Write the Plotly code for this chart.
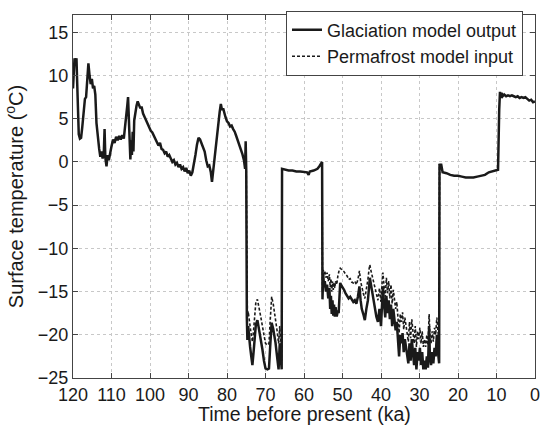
import plotly.graph_objects as go

# glaciation model output (solid), time before present in ka
glac_time = [
    120.0, 119.8, 119.6, 119.3, 119.1, 118.9, 118.7, 118.5, 118.2, 117.9,
    117.6, 117.2, 116.9, 116.6, 116.3, 116.0, 115.7, 115.4, 115.1, 114.8,
    114.5, 114.2, 113.9, 113.6, 113.2, 112.9, 112.6, 112.3, 112.0, 111.8,
    111.6, 111.3, 111.0, 110.7, 110.4, 110.0, 109.6, 109.2, 108.8, 108.4,
    108.0, 107.6, 107.2, 106.8, 106.5, 106.2, 105.9, 105.7, 105.5, 105.3,
    105.1, 104.9, 104.7, 104.5, 104.3, 104.1, 103.8, 103.5, 103.2, 102.9,
    102.5, 102.2, 101.8, 101.4, 101.0, 100.6, 100.2, 99.8, 99.4, 99.0,
    98.6, 98.2, 97.8, 97.4, 97.0, 96.6, 96.2, 95.8, 95.4, 95.0,
    94.6, 94.2, 93.8, 93.4, 93.0, 92.6, 92.2, 91.8, 91.4, 91.0,
    90.6, 90.2, 89.8, 89.4, 89.0, 88.6, 88.2, 87.8, 87.4, 87.0,
    86.6, 86.2, 85.8, 85.4, 85.0, 84.6, 84.2, 83.9, 83.6, 83.3,
    83.0, 82.6, 82.2, 81.9, 81.6, 81.3, 81.0, 80.7, 80.4, 80.0,
    79.6, 79.2, 78.8, 78.4, 78.0, 77.6, 77.2, 76.8, 76.4, 76.0,
    75.6, 75.3, 75.15, 75.0,
    74.85, 74.7, 74.5, 74.3, 74.0, 73.7, 73.4, 73.1, 72.8, 72.5,
    72.1, 71.8, 71.5, 71.2, 70.8, 70.4, 70.0, 69.5, 69.1, 68.8,
    68.4, 68.0, 67.7, 67.4, 67.0, 66.6, 66.3, 66.0, 65.8,
    65.7, 65.0, 64.0, 63.0, 62.0, 61.0, 60.0, 59.2, 58.8, 58.5,
    57.5, 56.5, 56.0, 55.5, 55.3,
    55.2, 55.0, 54.8, 54.6, 54.3, 54.0, 53.7, 53.4, 53.2, 53.0,
    52.8, 52.6, 52.4, 52.2, 52.0, 51.8, 51.5, 51.2, 51.0, 50.8,
    50.6, 50.3, 50.0, 49.6, 49.2, 48.8, 48.4, 48.0, 47.6, 47.2,
    46.8, 46.4, 46.0, 45.6, 45.3, 45.0, 44.6, 44.2, 43.8, 43.4,
    43.1, 42.9, 42.6, 42.3, 42.0, 41.6, 41.2, 40.8, 40.4, 40.0,
    39.7, 39.5, 39.2, 38.9, 38.6, 38.3, 38.0, 37.7, 37.4, 37.1,
    36.8, 36.5, 36.2, 35.9, 35.6, 35.3, 35.0, 34.7, 34.4, 34.1,
    33.8, 33.5, 33.2, 32.9, 32.6, 32.3, 32.0, 31.7, 31.4, 31.1,
    30.8, 30.5, 30.2, 29.9, 29.6, 29.3, 29.0, 28.7, 28.4, 28.1,
    27.8, 27.5, 27.3, 27.0, 26.7, 26.4, 26.1, 25.8, 25.5, 25.2,
    24.9,
    24.8, 24.6, 24.4, 24.2, 24.0, 23.0, 22.0, 21.0, 20.0, 19.0,
    18.0, 17.0, 16.0, 15.0, 14.0, 13.0, 12.0, 11.0, 10.3, 9.6,
    9.3, 9.1, 8.9, 8.7, 8.4, 8.0, 7.5, 7.0, 6.5, 6.0,
    5.5, 5.0, 4.5, 4.0, 3.5, 3.0, 2.5, 2.0, 1.5, 1.0,
    0.5, 0.0,
]
glac_temp = [
    8.5, 11.0, 12.0, 11.2, 12.0, 9.0, 5.5, 3.2, 2.7, 2.8,
    4.0, 6.5, 7.3, 7.5, 9.5, 11.4, 10.0, 9.0, 9.6, 8.5,
    8.8, 7.8, 4.5, 3.0, 1.5, 0.6, 1.2, 0.4, 1.0, 3.8,
    0.5, -0.5, 0.8, 0.2, 1.0, 1.8, 2.6, 2.2, 2.9, 2.5,
    3.0, 2.6, 3.1, 2.7, 4.0, 5.0, 6.5, 7.5, 4.0, 1.5,
    0.3, 2.5, 0.8, 3.5, 1.2, 4.8, 5.8, 6.5, 7.0, 6.7,
    6.2, 6.4, 5.6, 5.2, 4.8, 4.3, 4.0, 3.6, 3.4, 3.0,
    2.6, 2.3, 1.9, 2.2, 1.5, 1.4, 1.0, 1.2, 0.6, 0.8,
    0.3, 0.0, 0.2, -0.3, -0.1, -0.6, -0.3, -0.8, -0.6, -1.1,
    -0.7, -1.3, -1.0, -1.6, -1.2, -0.3, 0.8, 2.0, 2.8, 2.6,
    2.2, 1.8, 1.2, 0.2, -0.5, -0.4, -1.2, -2.3, -1.0, 0.3,
    1.5, 3.0, 4.5, 5.8, 6.7, 6.0, 6.2, 5.6, 5.2, 4.7,
    4.5, 4.1, 4.2, 3.8, 3.5, 3.0, 2.5, 2.0, 1.4, 0.9,
    0.2, -0.8, 2.4, -1.0,
    -18.0, -20.6, -19.0, -20.2, -21.4, -22.5, -23.5, -22.0, -19.8, -18.8,
    -18.3, -19.0, -19.8, -20.8, -21.7, -23.0, -23.9, -24.0, -23.9, -21.5,
    -18.6, -19.3, -20.0, -20.9, -22.5, -24.0, -21.0, -23.5, -24.0,
    -0.8, -0.9, -1.0, -1.0, -1.1, -1.1, -1.2, -1.2, -1.5, -1.1,
    -1.0, -0.8, -0.5, -0.2, 0.0,
    -15.9, -13.0, -14.5, -13.8, -15.0, -14.2, -15.8, -14.6, -17.0, -15.5,
    -17.6, -16.0, -17.8, -16.5, -17.9, -16.8, -17.9, -17.2, -17.5, -15.5,
    -14.0, -14.3, -14.5, -14.8, -15.2, -15.5, -15.8, -15.6, -16.0, -16.2,
    -16.0, -16.4, -15.6, -14.4, -16.0, -17.0, -17.6, -18.3, -17.0, -16.0,
    -14.5, -13.4, -14.2, -15.0, -16.0, -17.0, -17.9, -18.5, -17.0, -19.0,
    -16.0, -14.4, -16.5, -18.0, -15.5, -17.5, -16.0, -18.2, -16.5, -19.0,
    -17.0, -18.5, -19.5, -18.5, -20.5, -22.5, -20.0, -21.0, -19.8, -22.0,
    -20.5, -21.5, -22.8, -23.3, -21.0, -23.0, -20.5, -22.5, -23.5, -21.5,
    -24.0, -22.0, -23.0, -21.5, -23.5, -22.0, -24.0, -23.0, -24.0, -22.5,
    -23.8, -19.0, -22.5, -23.5, -22.0, -23.3, -21.5, -22.5, -20.0, -22.0,
    -23.3,
    -0.2, -0.6, -0.2, -1.0, -1.2, -1.3, -1.5, -1.6, -1.6, -1.7,
    -1.8, -1.8, -1.8, -1.7, -1.6, -1.5, -1.2, -1.1, -1.0, -0.9,
    6.0, 8.1, 7.4, 8.0, 7.6, 7.8, 7.6, 7.7, 7.6, 7.7,
    7.6, 7.5, 7.6, 7.4, 7.5, 7.4, 7.5, 7.3, 7.1, 7.2,
    6.9, 7.0,
]

# permafrost model input (dashed) - only differs during the two cold spells
perm_time = [
    75.0, 74.85, 74.7, 74.5, 74.3, 74.0, 73.7, 73.4, 73.1, 72.8, 72.5,
    72.1, 71.8, 71.5, 71.2, 70.8, 70.4, 70.0, 69.5, 69.1, 68.8,
    68.4, 68.0, 67.7, 67.4, 67.0, 66.6, 66.3, 66.0, 65.8, 65.7,
    None,
    55.3, 55.2, 55.0, 54.8, 54.6, 54.3, 54.0, 53.7, 53.4, 53.2, 53.0,
    52.8, 52.6, 52.4, 52.2, 52.0, 51.8, 51.5, 51.2, 51.0, 50.8,
    50.6, 50.3, 50.0, 49.6, 49.2, 48.8, 48.4, 48.0, 47.6, 47.2,
    46.8, 46.4, 46.0, 45.6, 45.3, 45.0, 44.6, 44.2, 43.8, 43.4,
    43.1, 42.9, 42.6, 42.3, 42.0, 41.6, 41.2, 40.8, 40.4, 40.0,
    39.7, 39.5, 39.2, 38.9, 38.6, 38.3, 38.0, 37.7, 37.4, 37.1,
    36.8, 36.5, 36.2, 35.9, 35.6, 35.3, 35.0, 34.7, 34.4, 34.1,
    33.8, 33.5, 33.2, 32.9, 32.6, 32.3, 32.0, 31.7, 31.4, 31.1,
    30.8, 30.5, 30.2, 29.9, 29.6, 29.3, 29.0, 28.7, 28.4, 28.1,
    27.8, 27.5, 27.3, 27.0, 26.7, 26.4, 26.1, 25.8, 25.5, 25.2,
    24.9, 24.8,
]
perm_temp = [
    -1.0, -17.0, -18.0, -17.3, -18.2, -19.0, -20.0, -20.8, -19.5, -17.2, -16.2,
    -15.9, -16.5, -17.2, -18.0, -19.0, -20.0, -21.0, -21.2, -21.0, -18.5,
    -15.6, -16.4, -17.2, -18.0, -19.5, -21.0, -19.0, -21.5, -23.0, -0.8,
    None,
    0.0, -15.0, -12.5, -13.0, -12.6, -13.4, -12.8, -13.8, -13.0, -14.5, -13.5,
    -15.0, -13.8, -14.8, -14.0, -14.6, -13.8, -14.2, -13.2, -12.6, -12.4,
    -12.3, -12.4, -12.6, -12.7, -13.0, -13.2, -13.6, -13.5, -13.9, -14.0,
    -13.8, -14.2, -13.6, -12.6, -13.8, -14.5, -15.2, -15.8, -14.8, -13.6,
    -12.4, -11.9, -12.6, -13.2, -13.8, -14.8, -15.4, -16.0, -14.6, -16.2,
    -13.8, -12.8, -14.4, -15.6, -13.4, -15.2, -13.8, -15.8, -14.2, -16.4,
    -14.8, -16.2, -17.0, -16.2, -18.0, -19.8, -17.6, -18.5, -17.4, -19.4,
    -18.0, -19.0, -20.2, -20.8, -18.5, -20.4, -18.2, -20.0, -21.0, -19.0,
    -21.4, -19.6, -20.5, -19.2, -21.0, -19.6, -21.4, -20.5, -21.4, -20.0,
    -21.2, -17.6, -20.0, -21.0, -19.6, -20.8, -19.2, -20.0, -18.0, -19.6,
    -21.0, -0.2,
]

x_ticks = [120, 110, 100, 90, 80, 70, 60, 50, 40, 30, 20, 10, 0]
y_ticks = [-25, -20, -15, -10, -5, 0, 5, 10, 15]

fnt = "Liberation Sans, Arial, Helvetica, sans-serif"
ink = "#1a1a1a"

fig = go.Figure()
fig.add_trace(go.Scatter(x=glac_time, y=glac_temp, mode="lines",
                         name="Glaciation model output",
                         line=dict(color=ink, width=2.5)))
fig.add_trace(go.Scatter(x=perm_time, y=perm_temp, mode="lines",
                         name="Permafrost model input", connectgaps=False,
                         line=dict(color=ink, width=1.6, dash="3px,2px")))

axis_common = dict(showline=True, linecolor="#444", linewidth=1, mirror="ticks",
                   ticks="inside", ticklen=5, tickcolor="#444",
                   showgrid=True, gridcolor="#c8c8c8", griddash="dot", gridwidth=1,
                   zeroline=False, ticklabeloverflow="allow",
                   tickfont=dict(size=18, color=ink, family=fnt))

fig.update_layout(
    width=546, height=428,
    margin=dict(l=73, r=6, t=15, b=50),
    plot_bgcolor="white", paper_bgcolor="white",
    font=dict(family=fnt, color=ink),
    xaxis=dict(range=[120, 0], tickvals=x_ticks, **axis_common),
    yaxis=dict(range=[-25, 17], tickvals=y_ticks, tickformat="d",
               title=dict(text="Surface temperature (<sup>o</sup>C)", font=dict(size=20), standoff=8),
               **axis_common),
    legend=dict(x=0.974, y=1.012, xanchor="right", yanchor="top",
                bgcolor="white", bordercolor="#444", borderwidth=1,
                font=dict(size=18, color=ink, family=fnt),
                tracegroupgap=0, itemwidth=30),
    showlegend=True,
)
# x-axis title as an annotation so it sits just under the tick labels
fig.add_annotation(text="Time before present (ka)", xref="paper", yref="paper",
                   x=0.5, y=0, xanchor="center", yanchor="top", yshift=-23,
                   showarrow=False, font=dict(size=19.5, color=ink, family=fnt))

# page body has a default 8px margin, drop it so the figure fills the window
fig.write_html("out.html", config={"displayModeBar": False},
               post_script="document.body.style.margin='0';")
